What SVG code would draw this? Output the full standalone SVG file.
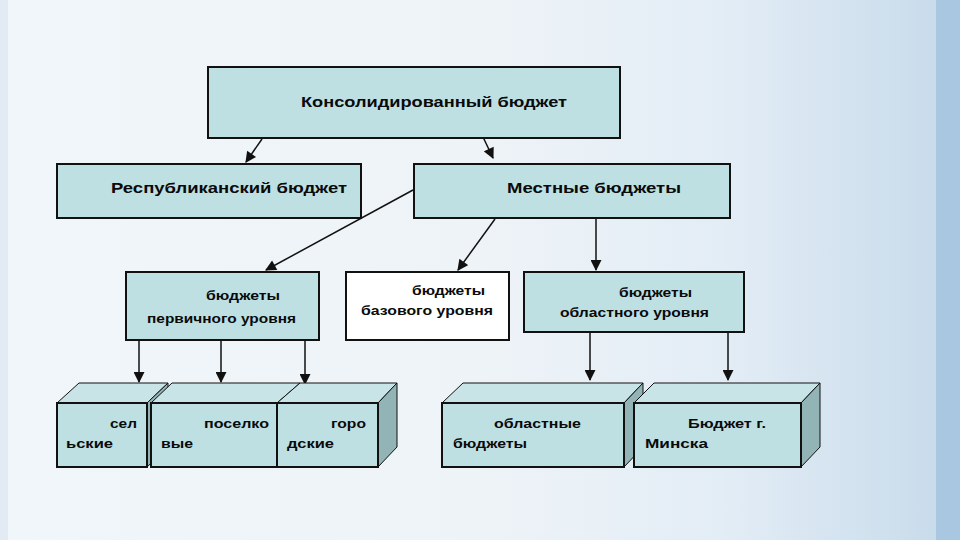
<svg xmlns="http://www.w3.org/2000/svg" width="960" height="540" viewBox="0 0 960 540">
<defs>
<linearGradient id="bg" x1="0" y1="0" x2="1" y2="0">
<stop offset="0" stop-color="#f1f6fa"/>
<stop offset="0.5" stop-color="#eef3f7"/>
<stop offset="0.75" stop-color="#e3edf6"/>
<stop offset="1" stop-color="#c6daea"/>
</linearGradient>
<marker id="ah" viewBox="0 0 10 10" refX="9" refY="5" markerWidth="12" markerHeight="11" markerUnits="userSpaceOnUse" orient="auto">
<path d="M0,0 L10,5 L0,10 z" fill="#111"/>
</marker>
<style>
.box{fill:#bee0e3;stroke:#111;stroke-width:2}
.wbox{fill:#ffffff;stroke:#111;stroke-width:2}
.top{fill:#c8e4e6;stroke:#111;stroke-width:1}
.side{fill:#93b4b6;stroke:#111;stroke-width:1}
.front{fill:#bee0e3;stroke:#111;stroke-width:2}
.t{font-family:"Liberation Sans",Arial,sans-serif;font-weight:bold;fill:#0a0a0a}
.big{font-size:15px}
.sm{font-size:12.5px}
.cn line{stroke:#111;stroke-width:1.5;marker-end:url(#ah)}
</style>
</defs>
<rect width="960" height="540" fill="url(#bg)"/>
<rect x="0" y="0" width="8" height="540" fill="#e2ebf3"/>
<rect x="936" y="0" width="24" height="540" fill="#a9c7e0"/>

<g class="cn" id="connectors">
<line x1="262" y1="139" x2="246" y2="162"/>
<line x1="483" y1="137" x2="493" y2="158"/>
<line x1="413" y1="190" x2="266" y2="270"/>
<line x1="495" y1="219" x2="458" y2="270"/>
<line x1="596" y1="218" x2="596" y2="270"/>
<line x1="139" y1="340" x2="139" y2="382"/>
<line x1="221" y1="340" x2="221" y2="382"/>
<line x1="305" y1="340" x2="305" y2="384"/>
<line x1="590" y1="332" x2="590" y2="380"/>
<line x1="728" y1="332" x2="728" y2="380"/>
</g>

<g id="n-cons">
<rect class="box" x="208" y="67" width="412" height="71"/>
<text class="t big" x="301" y="107" textLength="266" lengthAdjust="spacingAndGlyphs">Консолидированный бюджет</text>
</g>
<g id="n-resp">
<rect class="box" x="57" y="164" width="304" height="54"/>
<text class="t big" x="111" y="193" textLength="236" lengthAdjust="spacingAndGlyphs">Республиканский бюджет</text>
</g>
<g id="n-local">
<rect class="box" x="414" y="164" width="316" height="54"/>
<text class="t big" x="507" y="193" textLength="174" lengthAdjust="spacingAndGlyphs">Местные бюджеты</text>
</g>
<g id="n-perv">
<rect class="box" x="126" y="272" width="193" height="68"/>
<text class="t sm" x="206" y="300" textLength="74" lengthAdjust="spacingAndGlyphs">бюджеты</text>
<text class="t sm" x="147" y="323" textLength="149" lengthAdjust="spacingAndGlyphs">первичного уровня</text>
</g>
<g id="n-baz">
<rect class="wbox" x="346" y="272" width="163" height="68"/>
<text class="t sm" x="412" y="295" textLength="73" lengthAdjust="spacingAndGlyphs">бюджеты</text>
<text class="t sm" x="361" y="315" textLength="132" lengthAdjust="spacingAndGlyphs">базового уровня</text>
</g>
<g id="n-obl">
<rect class="box" x="524" y="272" width="220" height="60"/>
<text class="t sm" x="619" y="297" textLength="73" lengthAdjust="spacingAndGlyphs">бюджеты</text>
<text class="t sm" x="560" y="317" textLength="149" lengthAdjust="spacingAndGlyphs">областного уровня</text>
</g>

<g id="n-sel">
<polygon class="top" points="57,403 79,383 168,383 147,403"/>
<polygon class="side" points="147,403 168,383 168,447 147,467"/>
<rect class="front" x="57" y="403" width="90" height="64"/>
<text class="t sm" x="110" y="428" textLength="27" lengthAdjust="spacingAndGlyphs">сел</text>
<text class="t sm" x="66" y="448" textLength="47" lengthAdjust="spacingAndGlyphs">ьские</text>
</g>
<g id="n-pos">
<polygon class="top" points="151,403 172,383 300,383 277,403"/>
<rect class="front" x="151" y="403" width="126" height="64"/>
<text class="t sm" x="204" y="428" textLength="65" lengthAdjust="spacingAndGlyphs">поселко</text>
<text class="t sm" x="161" y="448" textLength="32" lengthAdjust="spacingAndGlyphs">вые</text>
</g>
<g id="n-gor">
<polygon class="top" points="277,403 300,383 397,383 378,403"/>
<polygon class="side" points="378,403 397,383 397,447 378,467"/>
<rect class="front" x="277" y="403" width="101" height="64"/>
<text class="t sm" x="331" y="428" textLength="35" lengthAdjust="spacingAndGlyphs">горо</text>
<text class="t sm" x="287" y="448" textLength="47" lengthAdjust="spacingAndGlyphs">дские</text>
</g>
<g id="n-oblb">
<polygon class="top" points="442,403 463,383 643,383 624,403"/>
<polygon class="side" points="624,403 643,383 643,447 624,467"/>
<rect class="front" x="442" y="403" width="182" height="64"/>
<text class="t sm" x="494" y="428" textLength="87" lengthAdjust="spacingAndGlyphs">областные</text>
<text class="t sm" x="453" y="448" textLength="74" lengthAdjust="spacingAndGlyphs">бюджеты</text>
</g>
<g id="n-minsk">
<polygon class="top" points="634,403 654,383 820,383 801,403"/>
<polygon class="side" points="801,403 820,383 820,447 801,467"/>
<rect class="front" x="634" y="403" width="167" height="64"/>
<text class="t sm" x="688" y="428" textLength="78" lengthAdjust="spacingAndGlyphs">Бюджет г.</text>
<text class="t sm" x="645" y="448" textLength="63" lengthAdjust="spacingAndGlyphs">Минска</text>
</g>
</svg>
